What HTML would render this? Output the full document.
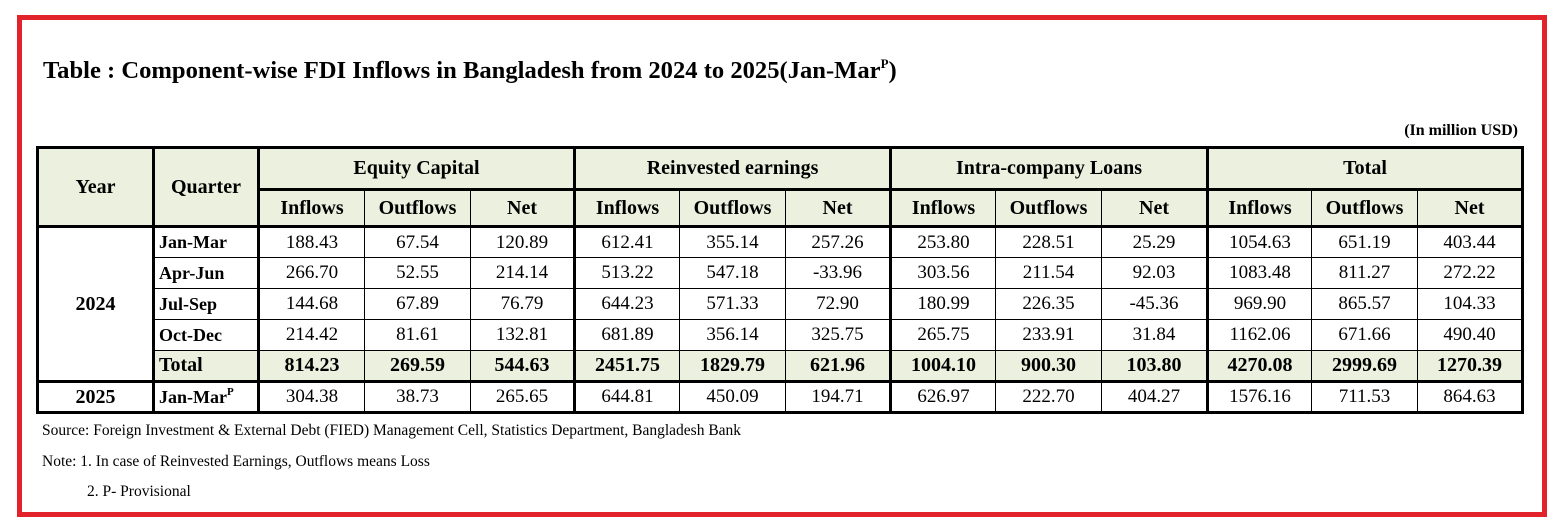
<!DOCTYPE html>
<html><head><meta charset="utf-8"><style>
html,body{margin:0;padding:0;background:#fff;}
body{width:1563px;height:532px;position:relative;overflow:hidden;font-family:"Liberation Serif",serif;color:#000;}
#frame{position:absolute;left:17px;top:15px;width:1520px;height:492px;border:5px solid #e3232b;}
#title{position:absolute;left:43px;top:56px;font-size:24.6px;font-weight:bold;white-space:nowrap;}
#title sup{font-size:13px;vertical-align:10px;}
#unit{position:absolute;right:45px;top:122px;font-size:16px;font-weight:bold;}
table{position:absolute;left:36px;top:146px;border-collapse:collapse;table-layout:fixed;width:1488px;}
td,th{padding:0;text-align:center;border:1px solid #000;font-size:19px;white-space:nowrap;overflow:hidden;}
th{font-weight:bold;font-size:20px;background:#ebf1de;}
.q{text-align:left;padding-left:4px;font-weight:bold;font-size:18px;}
.tk-l{border-left:3px solid #000;}
.tk-b{border-bottom:3px solid #000;}
.tk-t{border-top:3px solid #000;}
.tot td{background:#ebf1de;font-weight:bold;font-size:20px;}
.tot td.yr{background:#fff;}
.q sup{font-size:11px;vertical-align:8px;}
.note{position:absolute;font-size:15.5px;white-space:nowrap;}
</style></head><body>
<div id="frame"></div>
<div id="title">Table : Component-wise FDI Inflows in Bangladesh from 2024 to 2025(Jan-Mar<sup>P</sup>)</div>
<div id="unit">(In million USD)</div>
<table style="border:3px solid #000">
<colgroup><col style="width:116px"><col style="width:105px"><col style="width:106px"><col style="width:106px"><col style="width:104px"><col style="width:105px"><col style="width:106px"><col style="width:105px"><col style="width:105px"><col style="width:106px"><col style="width:106px"><col style="width:104px"><col style="width:106px"><col style="width:105px"></colgroup>
<tr style="height:42px">
<th rowspan="2" class="tk-b">Year</th>
<th rowspan="2" class="tk-l tk-b">Quarter</th>
<th colspan="3" class="tk-l tk-b">Equity Capital</th>
<th colspan="3" class="tk-l tk-b">Reinvested earnings</th>
<th colspan="3" class="tk-l tk-b">Intra-company Loans</th>
<th colspan="3" class="tk-l tk-b">Total</th>
</tr>
<tr style="height:37px">
<th class="tk-l tk-b">Inflows</th><th class="tk-b">Outflows</th><th class="tk-b">Net</th>
<th class="tk-l tk-b">Inflows</th><th class="tk-b">Outflows</th><th class="tk-b">Net</th>
<th class="tk-l tk-b">Inflows</th><th class="tk-b">Outflows</th><th class="tk-b">Net</th>
<th class="tk-l tk-b">Inflows</th><th class="tk-b">Outflows</th><th class="tk-b">Net</th>
</tr>
<tr style="height:31px">
<td rowspan="5" class="yr" style="font-weight:bold;font-size:20px;background:#fff">2024</td>
<td class="q tk-l">Jan-Mar</td>
<td class="tk-l">188.43</td><td>67.54</td><td>120.89</td>
<td class="tk-l">612.41</td><td>355.14</td><td>257.26</td>
<td class="tk-l">253.80</td><td>228.51</td><td>25.29</td>
<td class="tk-l">1054.63</td><td>651.19</td><td>403.44</td>
</tr>
<tr style="height:31px">
<td class="q tk-l">Apr-Jun</td>
<td class="tk-l">266.70</td><td>52.55</td><td>214.14</td>
<td class="tk-l">513.22</td><td>547.18</td><td>-33.96</td>
<td class="tk-l">303.56</td><td>211.54</td><td>92.03</td>
<td class="tk-l">1083.48</td><td>811.27</td><td>272.22</td>
</tr>
<tr style="height:31px">
<td class="q tk-l">Jul-Sep</td>
<td class="tk-l">144.68</td><td>67.89</td><td>76.79</td>
<td class="tk-l">644.23</td><td>571.33</td><td>72.90</td>
<td class="tk-l">180.99</td><td>226.35</td><td>-45.36</td>
<td class="tk-l">969.90</td><td>865.57</td><td>104.33</td>
</tr>
<tr style="height:31px">
<td class="q tk-l">Oct-Dec</td>
<td class="tk-l">214.42</td><td>81.61</td><td>132.81</td>
<td class="tk-l">681.89</td><td>356.14</td><td>325.75</td>
<td class="tk-l">265.75</td><td>233.91</td><td>31.84</td>
<td class="tk-l">1162.06</td><td>671.66</td><td>490.40</td>
</tr>
<tr style="height:31px" class="tot">
<td class="q tk-l tk-b">Total</td>
<td class="tk-l tk-b">814.23</td><td class="tk-b">269.59</td><td class="tk-b">544.63</td>
<td class="tk-l tk-b">2451.75</td><td class="tk-b">1829.79</td><td class="tk-b">621.96</td>
<td class="tk-l tk-b">1004.10</td><td class="tk-b">900.30</td><td class="tk-b">103.80</td>
<td class="tk-l tk-b">4270.08</td><td class="tk-b">2999.69</td><td class="tk-b">1270.39</td>
</tr>
<tr style="height:31px">
<td class="tk-t" style="font-weight:bold;font-size:20px;border-left-color:#fff">2025</td>
<td class="q tk-l tk-t">Jan-Mar<sup>P</sup></td>
<td class="tk-l tk-t">304.38</td><td class="tk-t">38.73</td><td class="tk-t">265.65</td>
<td class="tk-l tk-t">644.81</td><td class="tk-t">450.09</td><td class="tk-t">194.71</td>
<td class="tk-l tk-t">626.97</td><td class="tk-t">222.70</td><td class="tk-t">404.27</td>
<td class="tk-l tk-t">1576.16</td><td class="tk-t">711.53</td><td class="tk-t">864.63</td>
</tr>
</table>
<div class="note" style="left:42px;top:422px">Source: Foreign Investment &amp; External Debt (FIED) Management Cell, Statistics Department, Bangladesh Bank</div>
<div class="note" style="left:42px;top:453px">Note: 1. In case of Reinvested Earnings, Outflows means Loss</div>
<div class="note" style="left:87px;top:483px">2. P- Provisional</div>
</body></html>
